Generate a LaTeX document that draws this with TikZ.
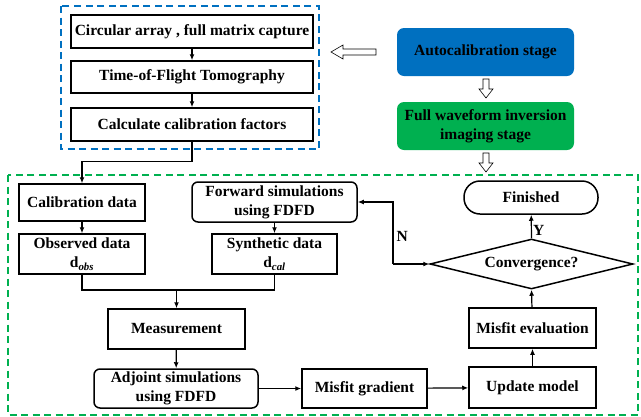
\documentclass[tikz,border=0pt]{standalone}
\usepackage{fontspec}
\setmainfont{Liberation Serif}
\usetikzlibrary{shapes.geometric,arrows.meta}
\definecolor{stageblue}{RGB}{0,112,192}
\definecolor{stagegreen}{RGB}{0,176,80}

\begin{document}
\begin{tikzpicture}[
    x=1pt, y=-1pt,
    every node/.style={font=\fontsize{15.5}{19}\selectfont\bfseries},
    box/.style={
        rectangle,
        draw=black,
        line width=1.5pt,
        inner sep=1pt,
        align=center
    },
    roundbox/.style={
        box,
        rounded corners=6pt
    },
    stagebox/.style={
        rectangle,
        rounded corners=7pt,
        draw=none,
        minimum width=177,
        minimum height=48,
        align=center
    },
    frame/.style={dashed, line width=1.3pt, dash pattern=on 7pt off 4.5pt},
    hollow/.style={draw=black, fill=white, line width=0.6pt, line join=miter},
    arrow/.style={-{Latex[length=6pt,width=5pt]}, line width=1.2pt}
]
\useasboundingbox (0,0) rectangle (641,416);

% autocalibration stage
\draw[frame, stageblue] (61,6) rectangle (319,149);
\node[box, minimum width=242, minimum height=33] (circ) at (192,31.5) {Circular array , full matrix capture};
\node[box, minimum width=242, minimum height=32] (tof) at (192,77) {Time-of-Flight Tomography};
\node[box, minimum width=242, minimum height=33] (calc) at (192,124.5) {Calculate calibration factors};

\draw[arrow] (circ) -- (tof);
\draw[arrow] (tof) -- (calc);

% stages
\node[stagebox, fill=stageblue] (auto) at (485.5,52) {Autocalibration stage};
\node[stagebox, fill=stagegreen] (fwi) at (485.5,126) {Full waveform inversion\\imaging stage};

% hollow arrows
\draw[hollow] (331,52) -- (343,45) -- (343,49) -- (376,49) -- (376,55) -- (343,55) -- (343,59) -- cycle;
\draw[hollow] (486,98) -- (479,89) -- (483,89) -- (483,79) -- (489,79) -- (489,89) -- (493,89) -- cycle;
\draw[hollow] (486,172) -- (479,163) -- (483,163) -- (483,153) -- (489,153) -- (489,163) -- (493,163) -- cycle;

% inversion stage
\draw[frame, stagegreen] (8,175) rectangle (638,415);
\node[box, minimum width=126, minimum height=37] (cal) at (82,202.5) {Calibration data};
\node[box, minimum width=126, minimum height=40] (obs) at (82,254) {Observed data\\d\textsubscript{\itshape obs}};
\node[roundbox, minimum width=165, minimum height=40] (fwd) at (274.5,202) {Forward simulations\\using FDFD};
\node[box, minimum width=125, minimum height=40] (syn) at (274.5,254) {Synthetic data\\d\textsubscript{\itshape cal}};
\node[box, minimum width=137, minimum height=40] (meas) at (176.5,329) {Measurement};
\node[roundbox, minimum width=164, minimum height=39] (adj) at (176,388.5) {Adjoint simulations\\using FDFD};
\node[box, minimum width=125, minimum height=39] (grad) at (364.5,388.5) {Misfit gradient};
\node[box, minimum width=127, minimum height=41] (upd) at (532.5,387.5) {Update model};
\node[box, minimum width=127, minimum height=40] (eval) at (532.5,328) {Misfit evaluation};
\node[diamond, draw=black, line width=1.5pt, aspect=4, inner sep=0pt, minimum width=203, minimum height=50] (conv) at (531.5,264) {Convergence?};
\node[box, rounded corners=16pt, minimum width=134, minimum height=33] (fin) at (531,197.5) {Finished};

\coordinate (mrg) at (176.5,290);
\coordinate (bend) at (393,264);

\draw[arrow] (calc.south) -- ++(0,20) -| (cal.north);
\draw[arrow] (cal) -- (obs);
\draw[arrow] (fwd) -- (syn);
\draw[line width=1.2pt] (obs.south) |- (mrg) -| (syn.south);
\draw[arrow] (mrg) -- (meas.north);
\draw[arrow] (meas) -- (adj);
\draw[arrow] (adj) -- (grad);
\draw[arrow] (grad) -- (upd);
\draw[arrow] (upd) -- (eval);
\draw[arrow] (eval) -- (conv.south);
\draw[arrow] (conv.north) -- node[right, inner sep=1pt, pos=0.35] {Y} (fin);
\draw[arrow] (bend) -- (conv.west);
\draw[arrow] (bend) |- node[pos=0.22, right, inner sep=3pt] {N} (fwd.east);

\end{tikzpicture}
\end{document}
